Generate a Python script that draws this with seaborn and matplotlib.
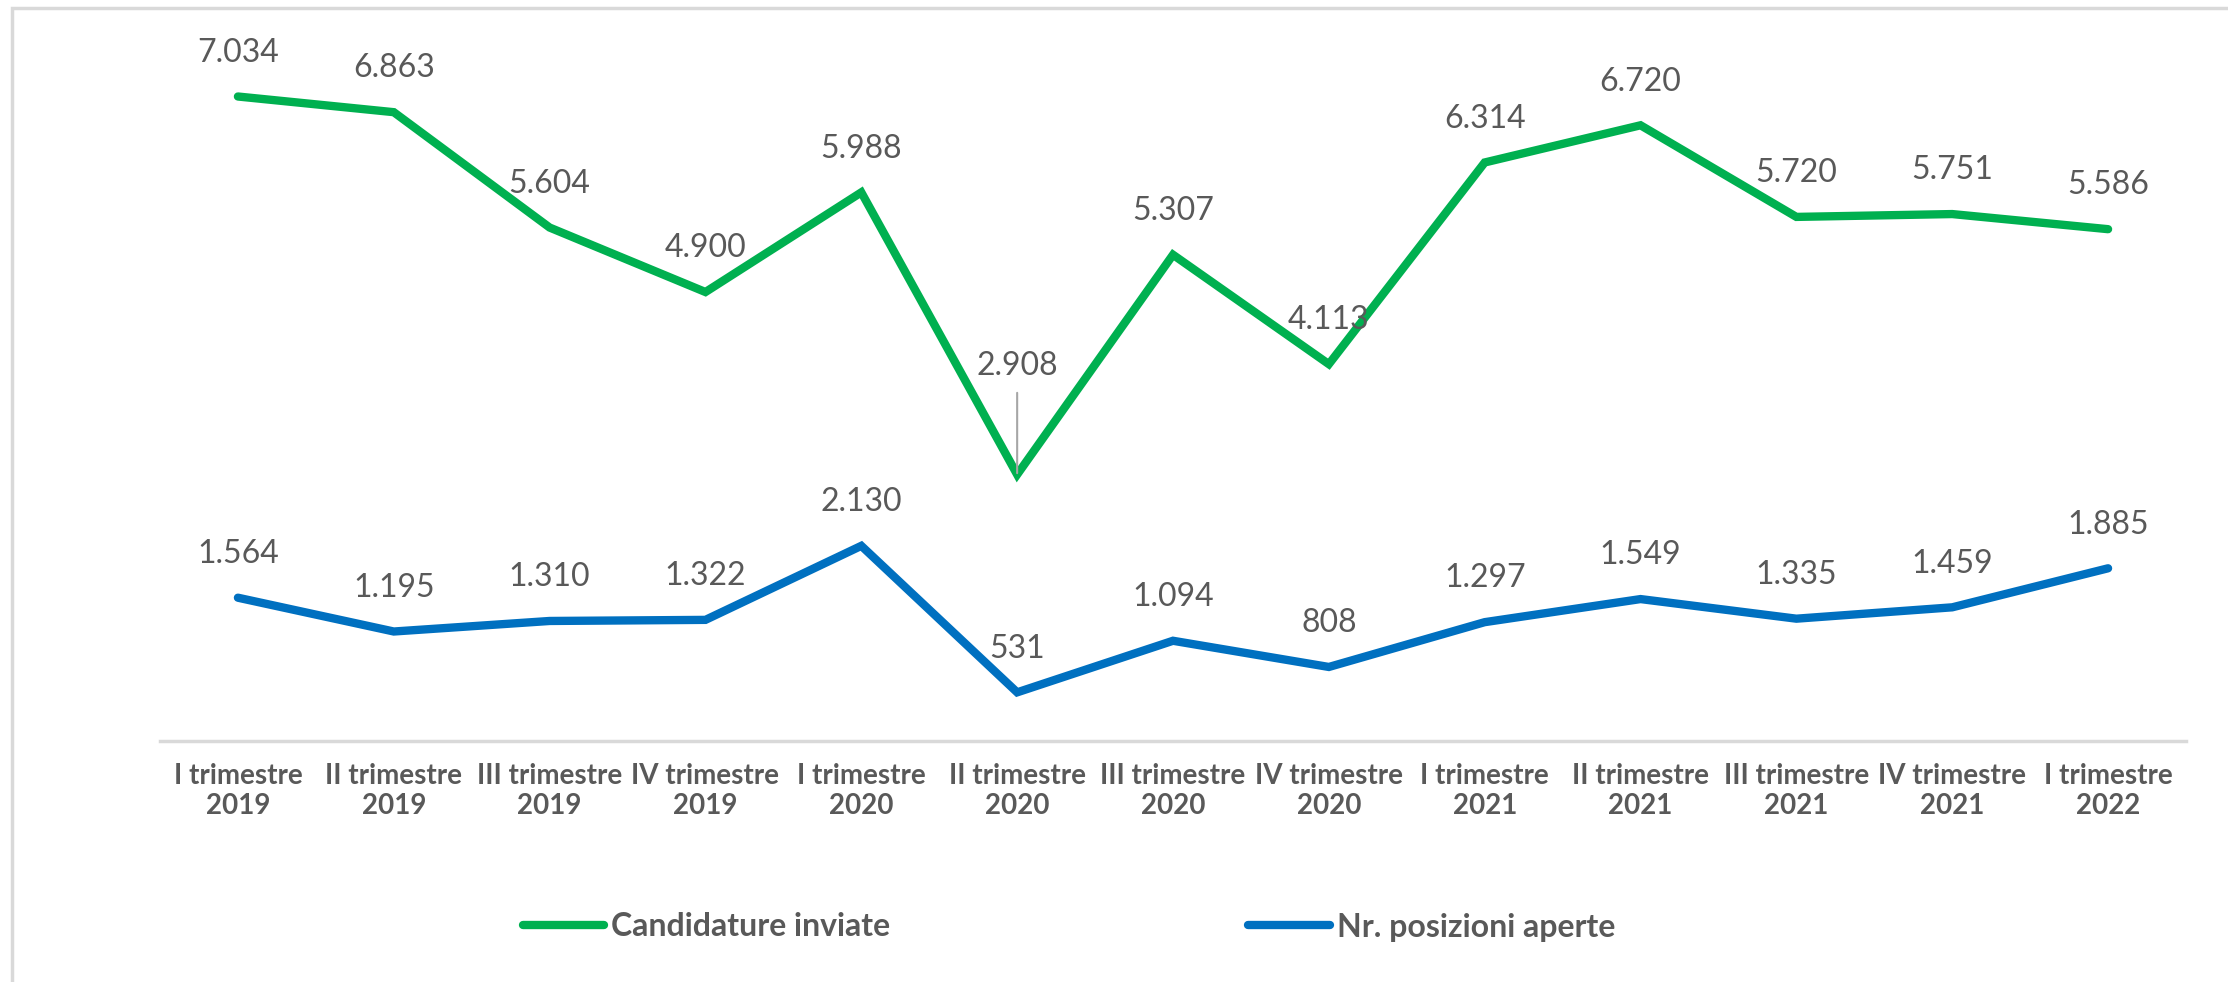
import numpy as np
import pandas as pd
import matplotlib
matplotlib.use("Agg")
import matplotlib.pyplot as plt
import seaborn as sns
from matplotlib.patches import Rectangle

# data
quarters = ["I trimestre\n2019", "II trimestre\n2019", "III trimestre\n2019", "IV trimestre\n2019",
            "I trimestre\n2020", "II trimestre\n2020", "III trimestre\n2020", "IV trimestre\n2020",
            "I trimestre\n2021", "II trimestre\n2021", "III trimestre\n2021", "IV trimestre\n2021",
            "I trimestre\n2022"]
candidature = [7034, 6863, 5604, 4900, 5988, 2908, 5307, 4113, 6314, 6720, 5720, 5751, 5586]
posizioni = [1564, 1195, 1310, 1322, 2130, 531, 1094, 808, 1297, 1549, 1335, 1459, 1885]
series_names = ["Candidature inviate", "Nr. posizioni aperte"]

sns.set_style("white")
plt.rcParams['font.family'] = ['Lato', 'DejaVu Sans']

green = "#00B050"
blue = "#0070C0"
txt = "#595959"

fig = plt.figure(figsize=(22.28, 9.82), dpi=100)
ax = fig.add_axes([160 / 2228, 1 - 741 / 982, 2026 / 2228, 733 / 982])

x = np.arange(len(quarters))
df = pd.DataFrame({"x": x, "cand": candidature, "pos": posizioni})

sns.lineplot(data=df, x="x", y="cand", color=green, lw=6, ax=ax, label=series_names[0],
             solid_capstyle="round", solid_joinstyle="miter")
sns.lineplot(data=df, x="x", y="pos", color=blue, lw=6, ax=ax, label=series_names[1],
             solid_capstyle="round", solid_joinstyle="miter")


def fmt(v):
    return f"{v:,}".replace(",", ".")


for i, v in enumerate(candidature):
    if i == 5:
        ax.annotate(fmt(v), (i, v), xytext=(0, 78), textcoords="offset points",
                    ha="center", va="center", fontsize=23, color=txt,
                    arrowprops=dict(arrowstyle="-", color="#a6a6a6", lw=1.5,
                                    shrinkA=6, shrinkB=1))
    else:
        ax.annotate(fmt(v), (i, v), xytext=(0, 31.5), textcoords="offset points",
                    ha="center", va="center", fontsize=23, color=txt)

for i, v in enumerate(posizioni):
    ax.annotate(fmt(v), (i, v), xytext=(0, 31.5), textcoords="offset points",
                ha="center", va="center", fontsize=23, color=txt)

ax.set_xlim(-0.5, len(quarters) - 0.5)
ax.set_ylim(0, 8000)
ax.set_xticks(x)
ax.set_xticklabels(quarters, fontsize=20, fontweight="bold", color=txt, linespacing=1.2)
ax.tick_params(axis="x", length=0, pad=16)
ax.set_yticks([])
ax.set_xlabel("")
ax.set_ylabel("")
for s in ["top", "right", "left"]:
    ax.spines[s].set_visible(False)
ax.spines["bottom"].set_color("#d9d9d9")
ax.spines["bottom"].set_linewidth(2.5)

leg = ax.legend(loc="center left", bbox_to_anchor=(523 / 2228, 1 - 927 / 982),
                bbox_transform=fig.transFigure, ncol=2, frameon=False,
                handlelength=2.55, handletextpad=0.22, columnspacing=11.2,
                borderpad=0, borderaxespad=0,
                prop={"size": 23, "weight": "bold"})
for t in leg.get_texts():
    t.set_color(txt)
for h in leg.get_lines():
    h.set_linewidth(6)

# light grey frame around the chart area
fig.patches.append(Rectangle((12 / 2228, -0.05), 1.2, 1 - 8 / 982 + 0.05,
                             transform=fig.transFigure, fill=False,
                             edgecolor="#d9d9d9", lw=2.5))

fig.savefig("out.png", dpi=100)
